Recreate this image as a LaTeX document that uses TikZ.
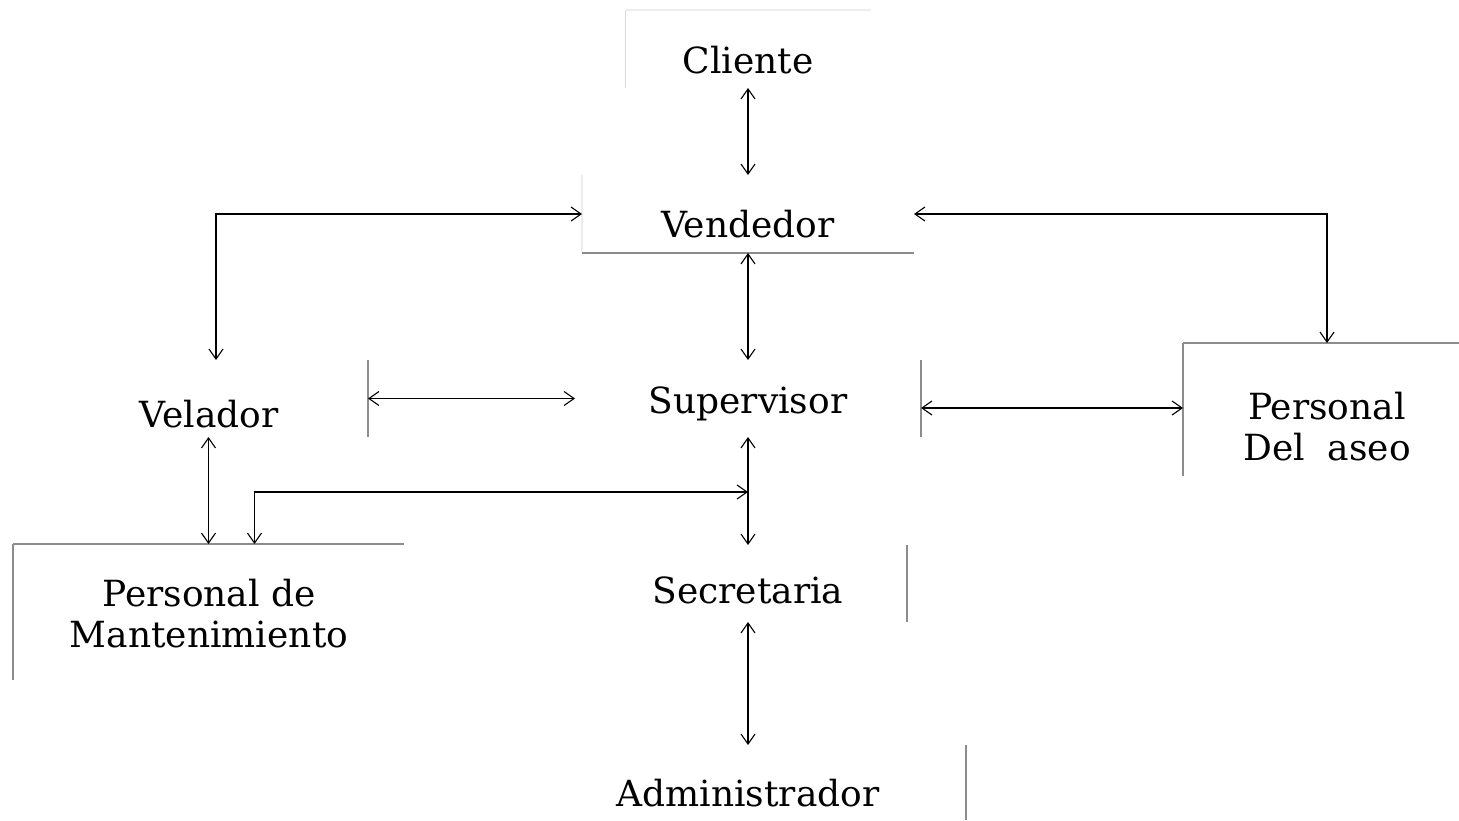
\documentclass[tikz,border=0pt]{standalone}
\usepackage{fontspec}
\setmainfont{DejaVu Serif}
\usetikzlibrary{arrows.meta}
\tikzset{
  box/.style={draw=none, rectangle, inner sep=0pt, outer sep=0pt},
  lbl/.style={inner sep=0pt, align=center, font=\fontsize{18}{20.5}\selectfont},
  conn/.style={draw=black, line width=0.55pt, {Straight Barb[length=5pt,width=7pt]}-{Straight Barb[length=5pt,width=7pt]}},
  edge/.style={draw=black!45, line width=0.6pt},
  faint/.style={draw=black!14, line width=0.6pt},
  vfaint/.style={draw=black!7, line width=0.6pt}
}
\begin{document}
\begin{tikzpicture}[x=0.5pt,y=-0.5pt]
\useasboundingbox (0,0) rectangle (1459,820);
% boxes (invisible, partial borders drawn below)
\node[box, minimum width=122.5pt, minimum height=39pt] (cli) at (748,49) {};
\node[box, minimum width=166pt, minimum height=39pt] (ven) at (748,214) {};
\node[box, minimum width=173pt, minimum height=38.5pt] (sup) at (748,398.5) {};
\node[box, minimum width=152pt, minimum height=38.5pt] (vel) at (216,398.5) {};
\node[box, minimum width=144pt, minimum height=66.5pt] (ase) at (1327,409.5) {};
\node[box, minimum width=195.5pt, minimum height=68pt] (man) at (208.5,612) {};
\node[box, minimum width=159pt, minimum height=38.5pt] (sec) at (748,583.5) {};
\node[box, minimum width=218pt, minimum height=37.5pt] (adm) at (748,782.5) {};
% labels
\node[lbl] (cliT) at (748,60) {Cliente};
\node[lbl] (venT) at (748,224) {Vendedor};
\node[lbl] (supT) at (748,404) {Supervisor};
\node[lbl] (velT) at (209,414) {Velador};
\node[lbl] (aseT) at (1327,427) {Personal\\Del\ \ aseo};
\node[lbl] (manT) at (209,614) {Personal de\\Mantenimiento};
\node[lbl] (secT) at (748,590) {Secretaria};
\node[lbl] (admT) at (748,793) {Administrador};
% partial borders
\draw[vfaint] (cli.north west) -- (cli.north east);
\draw[faint] (cli.north west) -- (cli.south west);
\draw[vfaint] (ven.north west) -- (ven.south west);
\draw[edge] (ven.south west) -- (ven.south east);
\draw[edge] (vel.north east) -- (vel.south east);
\draw[edge] (sup.north east) -- (sup.south east);
\draw[edge] (ase.north west) -- (1459,343);
\draw[edge] (ase.north west) -- (ase.south west);
\draw[edge] (man.north west) -- (man.north east);
\draw[edge] (man.north west) -- (man.south west);
\draw[edge] (sec.north east) -- (sec.south east);
\draw[edge] (adm.north east) -- (adm.south east);
% connectors
\coordinate (j) at (748,492);
\coordinate (aw) at ([yshift=0.75pt]ase.west);
\draw[conn] (cli.south) -- (ven.north);
\draw[conn] (ven.west) -- (vel.north |- ven.west) -- (vel.north);
\draw[conn] (ven.east) -- (ase.north |- ven.east) -- (ase.north);
\draw[conn] (ven.south) -- (sup.north);
\draw[conn] (vel.east) -- (sup.west);
\draw[conn] (sup.east |- aw) -- (aw);
\draw[conn] (sup.south) -- (sec.north);
\draw[conn] (man.north) -- (man.north |- vel.south);
\draw[conn] ([xshift=23pt]man.north) -- ([xshift=23pt]man.north |- j) -- (j);
\draw[conn] (sec.south) -- (adm.north);
\end{tikzpicture}
\end{document}
